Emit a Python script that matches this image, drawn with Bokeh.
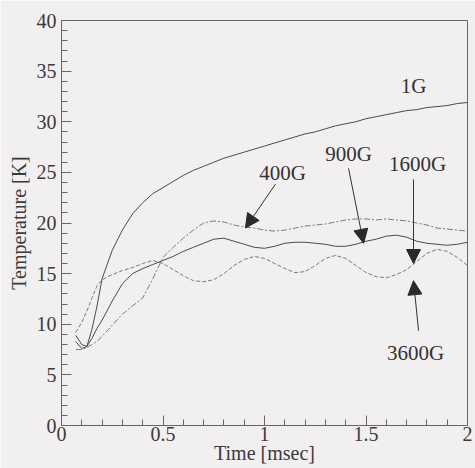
from bokeh.plotting import figure
from bokeh.models import Arrow, NormalHead, Label, FixedTicker, Range1d
from bokeh.embed import file_html
from bokeh.resources import INLINE

time = [0.07, 0.1, 0.125, 0.15, 0.175, 0.2, 0.25, 0.3, 0.35, 0.4, 0.45, 0.5, 0.55, 0.6,
        0.65, 0.7, 0.75, 0.8, 0.85, 0.9, 0.95, 1.0, 1.05, 1.1, 1.15, 1.2, 1.25, 1.3,
        1.35, 1.4, 1.45, 1.5, 1.55, 1.6, 1.65, 1.7, 1.75, 1.8, 1.85, 1.9, 1.95, 2.0]

temp_1g = [8.9, 8.0, 7.8, 9.5, 11.8, 14.5, 17.3, 19.3, 20.9, 22.0, 22.9, 23.5, 24.1, 24.7,
           25.2, 25.6, 26.0, 26.4, 26.7, 27.0, 27.3, 27.6, 27.9, 28.2, 28.5, 28.8, 29.0, 29.3,
           29.6, 29.8, 30.0, 30.3, 30.5, 30.7, 30.9, 31.1, 31.2, 31.4, 31.5, 31.6, 31.8, 31.9]

temp_400g = [7.5, 7.5, 7.7, 8.0, 8.3, 8.8, 9.9, 11.0, 11.8, 12.6, 14.5, 16.6, 17.6, 18.5,
             19.3, 20.0, 20.2, 20.1, 19.8, 19.6, 19.5, 19.3, 19.2, 19.3, 19.5, 19.7, 19.8, 19.9,
             20.1, 20.3, 20.4, 20.4, 20.3, 20.4, 20.3, 20.2, 20.0, 19.8, 19.5, 19.4, 19.3, 19.2]

temp_900g = [8.3, 7.6, 7.8, 8.6, 9.6, 10.4, 12.3, 14.0, 15.0, 15.5, 15.9, 16.3, 16.7, 17.2,
             17.6, 18.0, 18.4, 18.5, 18.2, 17.9, 17.6, 17.5, 17.7, 18.0, 18.1, 18.1, 18.0, 17.9,
             17.7, 17.7, 17.9, 18.2, 18.4, 18.7, 18.8, 18.6, 18.2, 18.0, 17.9, 17.8, 17.9, 18.1]

temp_3600g = [9.2, 10.2, 11.3, 12.6, 13.8, 14.4, 14.9, 15.3, 15.6, 16.0, 16.3, 16.0, 15.4, 14.8,
              14.3, 14.2, 14.4, 15.0, 15.8, 16.4, 16.7, 16.5, 16.0, 15.5, 15.1, 15.2, 15.8, 16.5,
              16.8, 16.5, 15.8, 15.1, 14.7, 14.6, 14.9, 15.4, 16.2, 17.0, 17.4, 17.2, 16.6, 15.8]

x_ticks = [0, 0.5, 1, 1.5, 2]
y_ticks = [0, 5, 10, 15, 20, 25, 30, 35, 40]

BG = "#f2eff1"
FONT = "Liberation Serif"

p = figure(width=475, height=468, output_backend="svg", toolbar_location=None,
           x_range=Range1d(0, 2), y_range=Range1d(0, 40))
p.min_border_left = 61
p.min_border_right = 8
p.min_border_top = 20
p.min_border_bottom = 43
p.background_fill_color = BG
p.border_fill_color = BG
p.outline_line_color = "#666666"
p.outline_line_width = 1
p.grid.visible = False

p.xaxis.ticker = FixedTicker(ticks=x_ticks, minor_ticks=[i / 10 for i in range(21)])
p.yaxis.ticker = FixedTicker(ticks=y_ticks, minor_ticks=list(range(41)))
p.xaxis.major_label_overrides = {0: "0", 0.5: "0.5", 1: "1", 1.5: "1.5", 2: "2"}
for ax in (p.xaxis, p.yaxis):
    ax.axis_line_color = "#666666"
    ax.major_tick_line_color = "#666666"
    ax.minor_tick_line_color = "#666666"
    ax.major_tick_in = 10
    ax.major_tick_out = 0
    ax.minor_tick_in = 6
    ax.minor_tick_out = 0
    ax.major_label_text_font = FONT
    ax.major_label_text_font_size = "20px"
    ax.major_label_text_color = "#3a3a3a"
    ax.axis_label_text_font = FONT
    ax.axis_label_text_font_size = "20px"
    ax.axis_label_text_font_style = "normal"
    ax.axis_label_text_color = "#3a3a3a"
p.xaxis.axis_label = "Time [msec]"
p.yaxis.axis_label = "Temperature [K]"
p.xaxis.major_label_standoff = 1
p.xaxis.axis_label_standoff = -2
p.yaxis.major_label_standoff = 5
p.yaxis.axis_label_standoff = 4

p.line(time, temp_1g, line_color="#4a4a4a", line_width=1)
p.line(time, temp_900g, line_color="#4a4a4a", line_width=1)
p.line(time, temp_400g, line_color="#7a7a7a", line_width=1, line_dash="6 2 2 2")
p.line(time, temp_3600g, line_color="#7a7a7a", line_width=1, line_dash="4 2")

labels = [("1G", 1.734, 33.5), ("400G", 1.089, 24.9), ("900G", 1.414, 26.8),
          ("1600G", 1.754, 25.8), ("3600G", 1.744, 7.2)]
for txt, lx, ly in labels:
    p.add_layout(Label(x=lx, y=ly, text=txt, text_font=FONT, text_font_size="21px",
                       text_color="#333333", text_align="center", text_baseline="middle"))

arrows = [(1.054, 23.84, 0.906, 19.5), (1.414, 25.4, 1.488, 18.0),
          (1.734, 24.3, 1.734, 16.0), (1.759, 9.36, 1.734, 14.3)]
for x0, y0, x1, y1 in arrows:
    p.add_layout(Arrow(x_start=x0, y_start=y0, x_end=x1, y_end=y1,
                       line_color="#333333", line_width=1,
                       end=NormalHead(size=14, fill_color="#2a2a2a", line_color="#2a2a2a")))

open("out.html", "w").write(file_html(p, INLINE))
